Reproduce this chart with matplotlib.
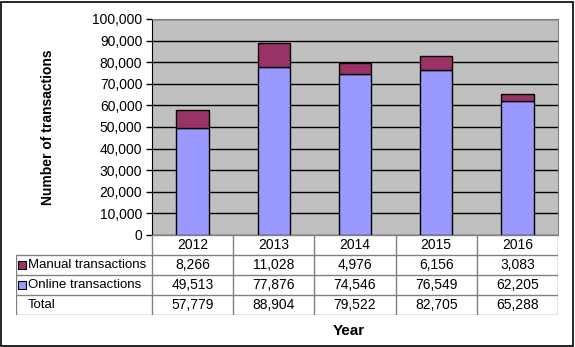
import matplotlib.pyplot as plt
from matplotlib.patches import Rectangle

plt.rcParams['font.family'] = ['Liberation Sans', 'DejaVu Sans']

years = ['2012', '2013', '2014', '2015', '2016']
manual = [8266, 11028, 4976, 6156, 3083]
online = [49513, 77876, 74546, 76549, 62205]
total = [57779, 88904, 79522, 82705, 65288]

c_online = '#9999FF'
c_manual = '#993366'

W, H = 575, 347
fig = plt.figure(figsize=(W / 100, H / 100), dpi=100)

def px(x0, y0, x1, y1):
    # pixel box -> figure fraction
    return [x0 / W, 1 - y1 / H, (x1 - x0) / W, (y1 - y0) / H]

# frame around the whole chart
fig.patches.append(Rectangle((1 / W, 1 / H), 1 - 3 / W, 1 - 3 / H, transform=fig.transFigure,
                             fill=False, edgecolor='black', linewidth=1.2))

# main plot
ax = fig.add_axes(px(152, 19, 558, 235))
ax.set_facecolor('#C0C0C0')
x = range(len(years))
ax.bar(x, online, width=0.4, color=c_online, edgecolor='black', linewidth=1, zorder=3)
ax.bar(x, manual, width=0.4, bottom=online, color=c_manual, edgecolor='black', linewidth=1, zorder=3)
ax.set_xlim(-0.5, 4.5)
ax.set_ylim(0, 100000)
ax.set_yticks(range(0, 100001, 10000))
ax.set_yticklabels([f'{v:,}' for v in range(0, 100001, 10000)], fontsize=10)
ax.yaxis.grid(True, color='black', linewidth=1, zorder=1)
ax.set_xticks([])
ax.tick_params(axis='y', length=4, width=1, pad=3)
for s in ['top', 'right']:
    ax.spines[s].set_color('#808080')
ax.spines['left'].set_color('black')
ax.spines['bottom'].set_visible(False)
fig.text(48 / W, 1 - 127 / H, 'Number of transactions', rotation=90, fontsize=10,
         fontweight='bold', ha='center', va='center')

# data table
lab_w = (152 - 16) / ((558 - 152) / 5)
tb = fig.add_axes(px(16, 235, 558, 315))
tb.set_xlim(-0.5 - lab_w, 4.5)
tb.set_ylim(4, 0)
tb.axis('off')
gc = '#808080'
tb.plot([-0.5, 4.5], [0, 0], color=gc, lw=1)
for r in [1, 2, 3, 4]:
    tb.plot([-0.5 - lab_w, 4.5], [r, r], color=gc, lw=1)
for cx in [-0.5 + i for i in range(6)]:
    tb.plot([cx, cx], [0, 4], color=gc, lw=1)
tb.plot([-0.5 - lab_w] * 2, [1, 4], color=gc, lw=1)

rows = [('Manual transactions', manual, c_manual),
        ('Online transactions', online, c_online),
        ('Total', total, None)]
for i, y in enumerate(years):
    tb.text(i, 0.5, y, ha='center', va='center', fontsize=10)
for r, (name, vals, col) in enumerate(rows, start=1):
    lx = -0.5 - lab_w + 0.03
    if col is not None:
        tb.add_patch(Rectangle((lx, r + 0.32), 0.09, 0.36, facecolor=col, edgecolor='black', lw=0.8))
    tb.text(lx + 0.12, r + 0.5, name, ha='left', va='center', fontsize=9.5)
    for i, v in enumerate(vals):
        tb.text(i, r + 0.5, f'{v:,}', ha='center', va='center', fontsize=10)

fig.text(349 / W, 1 - 331 / H, 'Year', fontsize=11, fontweight='bold', ha='center', va='center')

fig.savefig('out.png', dpi=100)
